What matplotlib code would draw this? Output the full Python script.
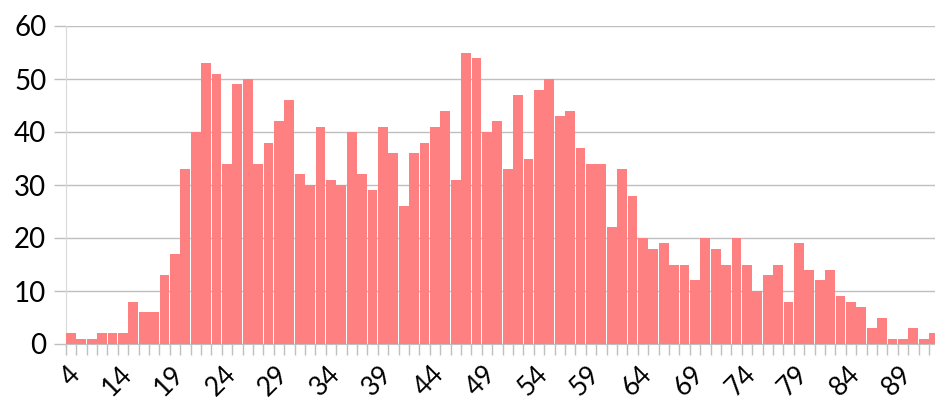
import numpy as np
import matplotlib.pyplot as plt
import matplotlib.transforms as mtransforms

# age categories (only every 5th is labelled on the axis)
ages = [4] + list(range(10, 93))
counts = [2, 1, 1, 2, 2, 2, 8, 6, 6, 13,
          17, 33, 40, 53, 51, 34, 49, 50, 34, 38,
          42, 46, 32, 30, 41, 31, 30, 40, 32, 29,
          41, 36, 26, 36, 38, 41, 44, 31, 55, 54,
          40, 42, 33, 47, 35, 48, 50, 43, 44, 37,
          34, 34, 22, 33, 28, 20, 18, 19, 15, 15,
          12, 20, 18, 15, 20, 15, 10, 13, 15, 8,
          19, 14, 12, 14, 9, 8, 7, 3, 5, 1,
          1, 3, 1, 2]

plt.rcParams['font.family'] = ['Lato', 'DejaVu Sans']

fig = plt.figure(figsize=(9.35, 4.03), dpi=100)
W, H = 935, 403
x0, x1 = 65.7, 65.7 + 10.4 * len(ages)
ax = fig.add_axes([x0 / W, (H - 344) / H, (x1 - x0) / W, 318 / H])

x = np.arange(len(ages))
ax.bar(x, counts, width=0.93, color='#FF8080', zorder=3)

ax.set_xlim(-0.5, len(ages) - 0.5)
ax.set_ylim(0, 60)
ax.set_yticks(range(0, 61, 10))
ax.grid(axis='y', color='#BFBFBF', linewidth=1, zorder=0)
ax.tick_params(axis='y', length=9, color='#BFBFBF', width=1, pad=5,
               labelsize=20)

lab_idx = list(range(0, len(ages), 5))
ax.set_xticks(lab_idx)
ax.set_xticklabels([str(ages[i]) for i in lab_idx], rotation=45,
                   ha='right', va='center', rotation_mode='anchor')
ax.tick_params(axis='x', which='major', length=0, labelsize=19, pad=19)
ax.set_xticks(np.arange(len(ages) + 1) - 0.5, minor=True)
ax.tick_params(axis='x', which='minor', length=8, color='#BFBFBF', width=1)

# nudge x labels to the right a bit
shift = mtransforms.ScaledTranslation(5 / 100, 0, fig.dpi_scale_trans)
for lbl in ax.get_xticklabels():
    lbl.set_transform(lbl.get_transform() + shift)

for s in ['top', 'right']:
    ax.spines[s].set_visible(False)
ax.spines['bottom'].set_color('#BFBFBF')
ax.spines['left'].set_color('#D9D9D9')

fig.savefig('out.png', dpi=100)
